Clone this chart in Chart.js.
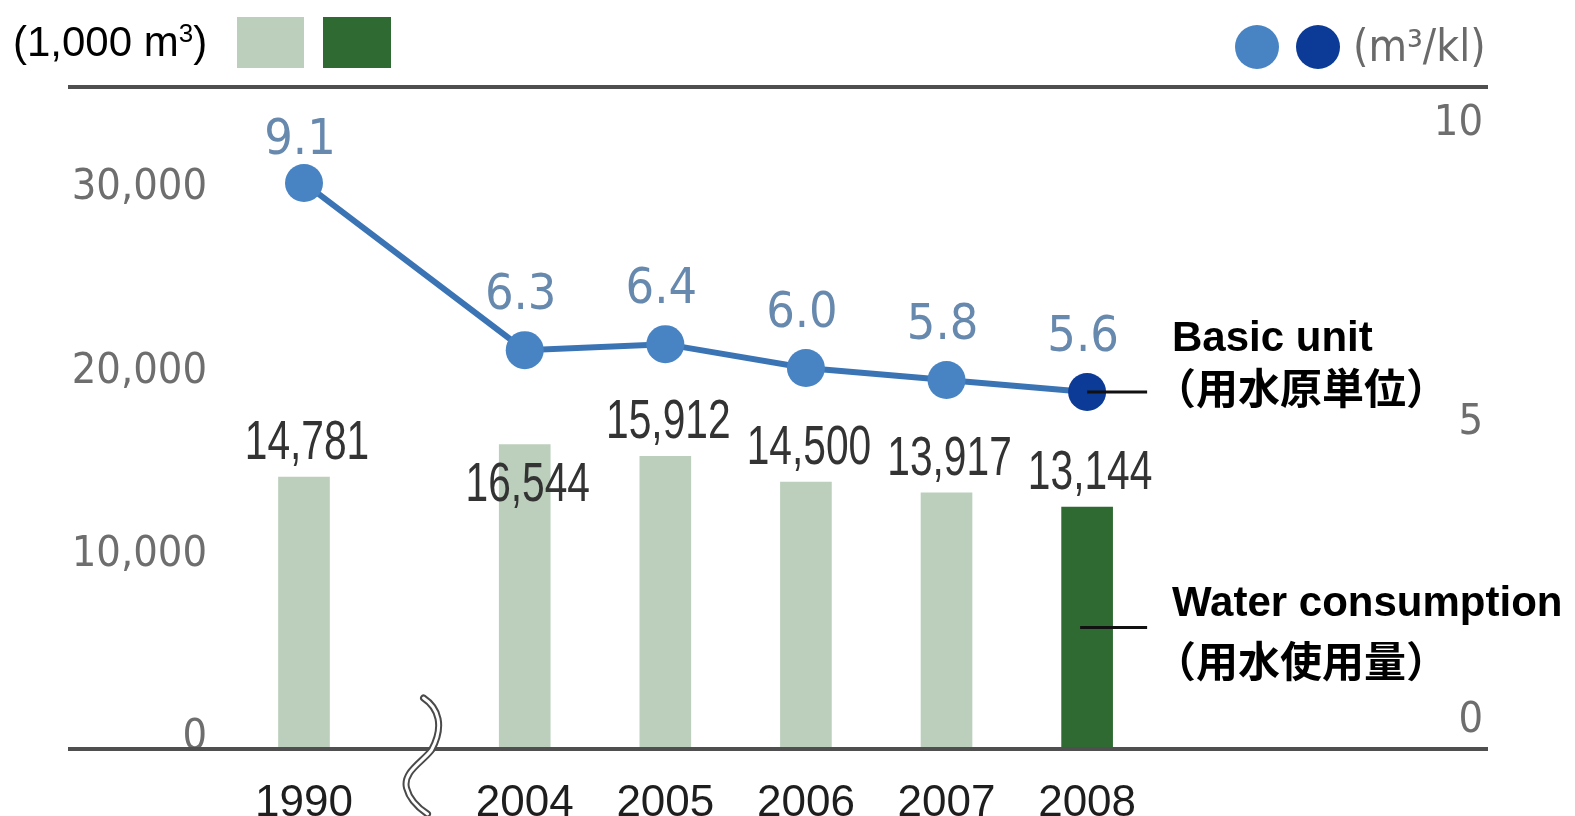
<!DOCTYPE html>
<html>
<head>
<meta charset="utf-8">
<script src="https://cdn.jsdelivr.net/npm/chart.js@4.4.1/dist/chart.umd.min.js"></script>
<style>
  html, body { margin: 0; padding: 0; background: #fff; width: 1575px; height: 816px; overflow: hidden; }
  #wrap { position: relative; width: 1575px; height: 816px; }
  #c { position: absolute; left: 0; top: 0; }
  .t { position: absolute; white-space: nowrap; line-height: 1; }
  .lat { font-family: 'Liberation Sans', Arial, sans-serif; font-size: 42px; color: #000; }
  .b { font-weight: bold; }
  .cjk { font-family: 'Noto Sans CJK JP', 'Noto Sans CJK SC', sans-serif; font-weight: bold; font-size: 42px; color: #000; }
  .sw { position: absolute; }
</style>
</head>
<body>
<div id="wrap">
  <canvas id="c" width="1575" height="816"></canvas>

  <div class="t lat" style="left:13px; top:21px;">(1,000 m<span style="font-size:26px; position:relative; top:-14px;">3</span>)</div>
  <div class="sw" id="swPast" style="left:237px; top:17px; width:67px; height:51px;"></div>
  <div class="sw" id="swCur" style="left:323px; top:17px; width:68px; height:51px;"></div>

  <div class="sw" id="dotPast" style="left:1235px; top:25px; width:44px; height:44px; border-radius:50%;"></div>
  <div class="sw" id="dotCur" style="left:1296px; top:25px; width:44px; height:44px; border-radius:50%;"></div>
  <div class="t" style="left:1353px; top:24px; width:136px; overflow:hidden; font-family:'DejaVu Sans Condensed','DejaVu Sans',sans-serif; font-size:44px; color:#6a6a6a;">(m³/kl)</div>

  <div class="t lat b" style="left:1172px; top:316px;">Basic unit</div>
  <div class="t cjk" style="left:1154px; top:365px;">（用水原単位）</div>
  <div class="t lat b" style="left:1172px; top:581px;">Water consumption</div>
  <div class="t cjk" style="left:1154px; top:638px;">（用水使用量）</div>
</div>

<script>
// ---------------- data ----------------
const years      = ['1990', '2004', '2005', '2006', '2007', '2008'];
const waterUse   = [14781, 16544, 15912, 14500, 13917, 13144];   // 1,000 m3 (bars, left axis)
const basicUnit  = [9.1, 6.3, 6.4, 6.0, 5.8, 5.6];               // m3/kl (line, right axis)
const leftTicks  = [0, 10000, 20000, 30000];
const rightTicks = [0, 5, 10];

// ---------------- styling / axis layout ----------------
const BREAK_GAP = 0.57;       // extra category width taken by the axis break after 1990
const BREAK_AT  = 0.9;        // where the break mark is drawn (in category units)
const slot = i => (i === 0 ? 0 : i + BREAK_GAP);
const HIGHLIGHT = years.length - 1;
const labelBelowTop = ['2004'];   // value label placed inside the bar top

const COLORS = {
  barPast: '#bccfbd', barCur: '#2e6a31',
  line: '#3b74b4', pointPast: '#4884c3', pointCur: '#0b3b97',
  lineLabel: '#6889ae', barLabel: '#333333', yearLabel: '#1e1e1e',
  axis: '#6e6e6e', rule: '#4f4f4f', leader: '#111111'
};
const ROUND = "'DejaVu Sans Condensed', 'DejaVu Sans', sans-serif";
const SANS  = "'Liberation Sans', Arial, sans-serif";

document.getElementById('swPast').style.background = COLORS.barPast;
document.getElementById('swCur').style.background = COLORS.barCur;
document.getElementById('dotPast').style.background = COLORS.pointPast;
document.getElementById('dotCur').style.background = COLORS.pointCur;

function narrowText(ctx, text, x, y, squeeze) {
  ctx.save();
  ctx.translate(x, y);
  ctx.scale(squeeze, 1);
  ctx.fillText(text, 0, 0);
  ctx.restore();
}

const decor = {
  id: 'decor',
  afterDatasetsDraw(chart) {
    const { ctx, chartArea, scales } = chart;
    const y0 = scales.yL.getPixelForValue(0);
    ctx.save();

    // top and bottom rules
    ctx.strokeStyle = COLORS.rule;
    ctx.lineWidth = 4;
    ctx.beginPath();
    ctx.moveTo(68, chartArea.top - 1); ctx.lineTo(1488, chartArea.top - 1);
    ctx.moveTo(68, y0 + 1); ctx.lineTo(1488, y0 + 1);
    ctx.stroke();

    // axis break mark
    const bx = scales.x.getPixelForValue(BREAK_AT);
    const breakPath = () => {
      ctx.beginPath();
      ctx.moveTo(bx - 7, y0 - 50);
      ctx.bezierCurveTo(bx + 8, y0 - 40, bx + 14, y0 - 22, bx + 1, y0 + 2);
      ctx.bezierCurveTo(bx - 8, y0 + 14, bx - 28, y0 + 24, bx - 24, y0 + 40);
      ctx.bezierCurveTo(bx - 21, y0 + 52, bx - 12, y0 + 60, bx - 3, y0 + 66);
    };
    ctx.lineCap = 'round';
    breakPath(); ctx.strokeStyle = '#4a4a4a'; ctx.lineWidth = 7; ctx.stroke();
    breakPath(); ctx.strokeStyle = '#ffffff'; ctx.lineWidth = 3; ctx.stroke();

    const barMeta = chart.getDatasetMeta(0);
    const lineMeta = chart.getDatasetMeta(1);

    // leader lines to the annotations
    const lastPt = lineMeta.data[HIGHLIGHT];
    const lastBar = barMeta.data[HIGHLIGHT];
    ctx.strokeStyle = COLORS.leader;
    ctx.lineWidth = 3;
    ctx.lineCap = 'butt';
    ctx.beginPath();
    ctx.moveTo(lastPt.x, lastPt.y); ctx.lineTo(lastPt.x + 60, lastPt.y);
    const midY = (lastBar.y + lastBar.base) / 2;
    ctx.moveTo(lastBar.x - 7, midY); ctx.lineTo(lastPt.x + 60, midY);
    ctx.stroke();

    // bar value labels
    ctx.textAlign = 'center';
    ctx.textBaseline = 'middle';
    ctx.font = '55px ' + SANS;
    ctx.fillStyle = COLORS.barLabel;
    barMeta.data.forEach((bar, i) => {
      const y = labelBelowTop.includes(years[i]) ? bar.y + 41 : bar.y - 33;
      narrowText(ctx, waterUse[i].toLocaleString('en-US'), bar.x + 3, y, 0.74);
    });

    // line value labels
    ctx.font = '50px ' + ROUND;
    ctx.fillStyle = COLORS.lineLabel;
    lineMeta.data.forEach((pt, i) => {
      const y = Math.max(pt.y - 54, chartArea.top + 53);
      ctx.fillText(basicUnit[i].toFixed(1), pt.x - 4, y);
    });
    ctx.restore();
  }
};

new Chart(document.getElementById('c'), {
  type: 'bar',
  data: {
    datasets: [
      {
        type: 'bar',
        label: 'Water consumption',
        data: waterUse.map((v, i) => ({ x: slot(i), y: v })),
        yAxisID: 'yL',
        backgroundColor: years.map((_, i) => (i === HIGHLIGHT ? COLORS.barCur : COLORS.barPast)),
        barThickness: 51,
        order: 2
      },
      {
        type: 'line',
        label: 'Basic unit',
        data: basicUnit.map((v, i) => ({ x: slot(i), y: v })),
        yAxisID: 'yR',
        borderColor: COLORS.line,
        borderWidth: 6,
        tension: 0,
        pointRadius: 19,
        pointBorderWidth: 0,
        pointBackgroundColor: years.map((_, i) => (i === HIGHLIGHT ? COLORS.pointCur : COLORS.pointPast)),
        pointBorderColor: years.map((_, i) => (i === HIGHLIGHT ? COLORS.pointCur : COLORS.pointPast)),
        order: 1
      }
    ]
  },
  options: {
    responsive: false,
    animation: false,
    events: [],
    layout: { padding: { top: 88, left: 0, right: 92, bottom: 0 } },
    plugins: { legend: { display: false }, tooltip: { enabled: false }, title: { display: false } },
    scales: {
      x: {
        type: 'linear',
        offset: false,
        min: -0.633,
        max: 7.959,
        grid: { display: false, offset: false },
        border: { display: false },
        afterBuildTicks: s => { s.ticks = years.map((_, i) => ({ value: slot(i) })); },
        afterFit: s => { s.height = 68; },
        ticks: {
          autoSkip: false, maxRotation: 0, minRotation: 0, padding: 21,
          color: COLORS.yearLabel,
          font: { family: SANS, size: 44 },
          callback: (v, i) => years[i]
        }
      },
      yL: {
        type: 'linear',
        position: 'left',
        min: 0,
        max: 36000,
        grid: { display: false },
        border: { display: false },
        afterBuildTicks: s => { s.ticks = leftTicks.map(v => ({ value: v })); },
        afterFit: s => { s.width = 215; },
        ticks: {
          padding: 0, labelOffset: -10,
          color: COLORS.axis,
          font: { family: ROUND, size: 43 },
          callback: v => v.toLocaleString('en-US')
        }
      },
      yR: {
        type: 'linear',
        position: 'right',
        min: -0.363,
        max: 10.69,
        grid: { display: false },
        border: { display: false },
        afterBuildTicks: s => { s.ticks = rightTicks.map(v => ({ value: v })); },
        afterFit: s => { s.width = 60; },
        ticks: {
          crossAlign: 'far', labelOffset: -5,
          color: COLORS.axis,
          font: { family: ROUND, size: 43 },
          callback: v => String(v)
        }
      }
    }
  },
  plugins: [decor]
});
</script>
</body>
</html>
